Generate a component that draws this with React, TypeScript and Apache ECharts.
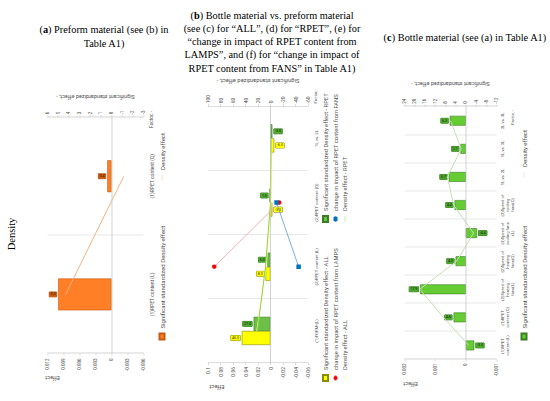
import React, { useEffect, useRef } from "react";
import * as echarts from "echarts";

const FONT = "Roboto, 'Noto Sans', sans-serif";
const SERIF = "'Liberation Serif', 'DejaVu Serif', serif";
const GREY = "#505050";
const LINE_ICON = "path://M0,0L0,0M0,2.2L10,2.2L10,2.9L0,2.9ZM10,5L10,5";

// ---------- Panel (a): Preform material ----------
const catsA = ["(1)RPET content (L)", "(1)RPET content (Q)"];
const stdEffectA = [5.0, 0.4];
const densityEffectA = [0.0086, -0.0023];
const effectTicksA = [-0.006, -0.003, 0, 0.003, 0.006, 0.009, 0.012];
const stdTicksA = [-3, -2, -1, 0, 1, 2, 3, 4, 5, 6];

// ---------- Panel (b): Bottle vs. preform ----------
const catsB = ["(1)FORM (L)", "(2)RPET content (L)", "(2)RPET content (Q)", "1L vs. 2L"];
const stdAllB = [46, 8, -3, -6];
const stdRpetB = [27, 5, 1.5, -3];
const densAllB = [0.022, 0.007, -0.001, -0.002];
const densRpetB = [0.021, 0.008, 0.0, -0.001];
const lampsB = [null, 0.09, -0.014, null];
const fansB = [null, -0.045, -0.0096, null];
const effectTicksB = [-0.06, -0.04, -0.02, 0, 0.02, 0.04, 0.06, 0.08, 0.1];
const stdTicksB = [-60, -40, -20, 0, 20, 40, 60, 80, 100];

// ---------- Panel (c): Bottle material ----------
const catsC = [
  "(1)RPET content (L)",
  "(1)RPET content (Q)",
  "(2)Speed of heating fans(L)",
  "(2)Speed of heating fans(Q)",
  "(3)Speed of cooling fans (L)",
  "(3)Speed of cooling fans(Q)",
  "1L vs. 2L",
  "1L vs. 3L",
  "2L vs. 3L",
];
const stdEffectC = [-3.3, 4.8, 17.9, 4.0, -4.4, 4.4, 6.7, 2.1, 6.3];
const densityEffectC = [-0.0001, 0.00073, 0.0015, 0.0003, -0.00025, 0.0004, 0.0006, 0.00015, 0.0005];
const effectTicksC = [-0.001, 0, 0.001, 0.002];
const stdTicksC = [-12, -8, -4, 0, 4, 8, 12, 16, 20, 24];

// ---------- Titles ----------
const titleA = ["({b|a}) Preform material (see (b) in", "Table A1)"];
const titleB = [
  "({b|b}) Bottle material vs. preform material",
  "(see (c) for “ALL”, (d) for “RPET”, (e) for",
  "“change in impact of RPET content from",
  "LAMPS”, and (f) for “change in impact of",
  "RPET content from FANS” in Table A1)",
];
const titleC = ["({b|c}) Bottle material (see (a) in Table A1)"];
const rowLabel = "Density";

const STD_NAME = "Significant standardized effect, -";

function axisFromTicks(ticks: number[]) {
  const min = ticks[0];
  const max = ticks[ticks.length - 1];
  const interval = Number((ticks[1] - ticks[0]).toPrecision(6));
  return { min, max, interval };
}

type BarDef = { name: string; data: number[]; color: string; border: string; labelBg: string; labelColor: string };
type LineDef = {
  name: string;
  data: (number | null)[];
  color: string;
  width?: number;
  symbol?: string;
  symbolSize?: number;
  markerColor?: string;
};

function buildPanel(p: any) {
  const series: any[] = [];
  p.bars.forEach((b: BarDef, i: number) => {
    series.push({
      type: "bar",
      name: b.name,
      yAxisIndex: 1,
      data: b.data.map((v) => ({ value: v, label: { align: v >= 0 ? "right" : "left" } })),
      barWidth: p.barWidth,
      barGap: "0%",
      itemStyle: { color: b.color, borderColor: b.border, borderWidth: 0.6 },
      label: {
        show: true,
        position: "outside",
        rotate: -90,
        verticalAlign: "middle",
        distance: 1.5,
        fontSize: 3.6,
        fontFamily: FONT,
        color: b.labelColor,
        backgroundColor: b.labelBg,
        borderColor: b.border,
        borderWidth: 0.5,
        padding: [0.6, 1.2, 0.3, 1.2],
        formatter: (q: any) => Number(q.value).toFixed(1),
      },
      markLine:
        i === 0
          ? {
              silent: true,
              symbol: ["none", "none"],
              label: { show: false },
              lineStyle: { color: "#BFBFBF", width: 0.7, type: "solid" },
              data: [{ yAxis: 0 }],
            }
          : undefined,
      z: 2,
    });
  });
  p.lines.forEach((l: LineDef) => {
    series.push({
      type: "line",
      name: l.name,
      yAxisIndex: 0,
      data: l.data,
      symbol: l.symbol || "none",
      showSymbol: !!l.symbol,
      symbolSize: l.symbolSize || 4,
      lineStyle: { color: l.color, width: l.width ?? 1 },
      itemStyle: { color: l.markerColor || l.color },
      connectNulls: false,
      z: 3,
    });
  });

  const ea = axisFromTicks(p.effectTicks);
  const sa = axisFromTicks(p.stdTicks);
  const legendText = { fontSize: p.legendFont, color: GREY, fontFamily: FONT };
  const plainLines = new Set(p.lines.filter((l: LineDef) => !l.symbol).map((l: LineDef) => l.name));

  return {
    animation: false,
    textStyle: { fontFamily: FONT },
    grid: p.grid,
    xAxis: {
      type: "category",
      data: p.cats,
      axisLine: { show: false, onZero: false },
      axisTick: { show: false },
      axisLabel: {
        interval: 0,
        fontSize: p.catFont,
        color: GREY,
        margin: p.catMargin,
        width: p.catWidth,
        overflow: p.catWidth ? "break" : "none",
        lineHeight: p.catFont * 1.25,
        fontFamily: FONT,
      },
      splitLine: { show: true, interval: 0, lineStyle: { color: "#D9D9D9", width: 0.6 } },
    },
    yAxis: [
      {
        type: "value",
        position: "left",
        ...ea,
        axisLine: { show: true, lineStyle: { color: "#D9D9D9", width: 0.7 } },
        axisTick: { show: true, length: 2, lineStyle: { color: "#BFBFBF", width: 0.6 } },
        axisLabel: {
          fontSize: p.tickFont,
          color: GREY,
          margin: p.leftMargin,
          fontFamily: FONT,
          formatter: (v: number) => String(Number(v.toFixed(4))),
        },
        splitLine: { show: false },
      },
      {
        type: "value",
        position: "right",
        ...sa,
        name: STD_NAME,
        nameLocation: "middle",
        nameRotate: 90,
        nameGap: p.stdNameGap,
        nameTextStyle: { fontSize: p.nameFont, color: GREY, fontFamily: FONT },
        axisLine: { show: true, lineStyle: { color: "#D9D9D9", width: 0.7 } },
        axisTick: { show: true, length: 2, lineStyle: { color: "#BFBFBF", width: 0.6 } },
        axisLabel: {
          fontSize: p.tickFont,
          color: GREY,
          margin: p.rightMargin,
          fontFamily: FONT,
          formatter: (v: number) => String(Math.round(v)),
        },
        splitLine: { show: false },
      },
    ],
    legend: p.legends.map((lg: any) => ({
      ...lg,
      itemWidth: 6,
      itemHeight: 5,
      textStyle: legendText,
      padding: 0,
      data: lg.data.map((d: any) => {
        const item = typeof d === "string" ? { name: d } : d;
        return plainLines.has(item.name) ? { ...item, icon: LINE_ICON } : item;
      }),
    })),
    series,
    graphic: [
      {
        type: "text",
        x: p.effectPos[0],
        y: p.effectPos[1],
        rotation: Math.PI / 2,
        style: {
          text: "Effect",
          fontSize: p.nameFont,
          fill: GREY,
          fontFamily: FONT,
          align: "center",
          verticalAlign: "middle",
          textAlign: "center",
          textVerticalAlign: "middle",
        },
      },
      {
        type: "text",
        x: p.factorPos[0],
        y: p.factorPos[1],
        style: {
          text: "Factor, -",
          fontSize: p.catFont,
          fill: GREY,
          fontFamily: FONT,
          align: "center",
          verticalAlign: "middle",
          textAlign: "center",
          textVerticalAlign: "middle",
        },
      },
    ],
  };
}

const optionA = buildPanel({
  grid: { left: 37, right: 19, top: 17, bottom: 37 },
  cats: catsA,
  catFont: 5,
  catMargin: 5,
  tickFont: 4.5,
  nameFont: 5.5,
  legendFont: 6,
  leftMargin: 5,
  rightMargin: 3,
  stdNameGap: 11,
  barWidth: "27%",
  effectTicks: effectTicksA,
  stdTicks: stdTicksA,
  effectPos: [13, 22],
  factorPos: [271, 120],
  bars: [
    {
      name: "Significant standardized Density effect",
      data: stdEffectA,
      color: "#FF7F27",
      border: "#C55A11",
      labelBg: "#C65911",
      labelColor: "#3B1A00",
    },
  ],
  lines: [{ name: "Density effect", data: densityEffectA, color: "#F4B183", width: 1 }],
  legends: [
    {
      left: 50,
      top: 128,
      itemGap: 45,
      data: [{ name: "Significant standardized Density effect", icon: "rect" }, "Density effect"],
    },
  ],
});

const optionB = buildPanel({
  grid: { left: 32, right: 30, top: 13, bottom: 50 },
  cats: catsB,
  catFont: 4.3,
  catMargin: 6,
  tickFont: 5,
  nameFont: 5.8,
  legendFont: 5.8,
  leftMargin: 4,
  rightMargin: 3,
  stdNameGap: 16,
  barWidth: "22%",
  effectTicks: effectTicksB,
  stdTicks: stdTicksB,
  effectPos: [8, 22],
  factorPos: [299, 120],
  bars: [
    {
      name: "Significant standardized Density effect - ALL",
      data: stdAllB,
      color: "#FFFF00",
      border: "#8C8C00",
      labelBg: "#FFFF00",
      labelColor: "#333300",
    },
    {
      name: "Significant standardized Density effect - RPET",
      data: stdRpetB,
      color: "#6CC04A",
      border: "#3A7D22",
      labelBg: "#4EA72E",
      labelColor: "#0D2607",
    },
  ],
  lines: [
    { name: "change in impact of RPET content from LAMPS", data: lampsB, color: "#F19C9C", width: 0.8, symbol: "circle", symbolSize: 4.5, markerColor: "#FF0000" },
    { name: "change in impact of RPET content from FANS", data: fansB, color: "#5B9BD5", width: 0.8, symbol: "rect", symbolSize: 4.5, markerColor: "#0070C0" },
    { name: "Density effect - ALL", data: densAllB, color: "#FFFF66", width: 0.9 },
    { name: "Density effect - RPET", data: densRpetB, color: "#92D050", width: 1 },
  ],
  legends: [
    {
      left: 13,
      top: 127,
      orient: "vertical",
      itemGap: 3.5,
      data: [
        { name: "Significant standardized Density effect - ALL", icon: "rect" },
        "change in impact of RPET content from LAMPS",
        "Density effect - ALL",
      ],
    },
    {
      left: 172,
      top: 127,
      orient: "vertical",
      itemGap: 3.5,
      data: [
        { name: "Significant standardized Density effect - RPET", icon: "rect" },
        "change in impact of RPET content from FANS",
        "Density effect - RPET",
      ],
    },
  ],
});

const optionC = buildPanel({
  grid: { left: 33, right: 30, top: 14, bottom: 39 },
  cats: catsC,
  catFont: 4.2,
  catMargin: 3,
  catWidth: 27,
  tickFont: 4.5,
  nameFont: 5.5,
  legendFont: 6,
  leftMargin: 4,
  rightMargin: 3,
  stdNameGap: 15,
  barWidth: "35%",
  effectTicks: effectTicksC,
  stdTicks: stdTicksC,
  effectPos: [9, 20],
  factorPos: [275, 122],
  bars: [
    {
      name: "Significant standardized Density effect",
      data: stdEffectC,
      color: "#66CC33",
      border: "#3A7D22",
      labelBg: "#4EA72E",
      labelColor: "#0D2607",
    },
  ],
  lines: [{ name: "Density effect", data: densityEffectC, color: "#C5E0B4", width: 1 }],
  legends: [
    {
      left: 52,
      top: 130,
      itemGap: 48,
      data: [{ name: "Significant standardized Density effect", icon: "rect" }, "Density effect"],
    },
  ],
});

function titleLines(lines: string[], cx: number, y0: number, step: number) {
  return lines.map((t, i) => ({
    type: "text",
    x: cx,
    y: y0 + i * step,
    style: {
      text: t,
      fontSize: 10.3,
      fontFamily: SERIF,
      fill: "#000",
      align: "center",
      verticalAlign: "middle",
      textAlign: "center",
      textVerticalAlign: "middle",
      rich: { b: { fontWeight: "bold", fontSize: 10.3, fontFamily: SERIF, fill: "#000" } },
    },
  }));
}

const optionBg = {
  animation: false,
  graphic: [
    ...titleLines(titleA, 104, 29, 14),
    ...titleLines(titleB, 272, 15, 13.3),
    ...titleLines(titleC, 465, 37, 14),
    {
      type: "text",
      x: 11,
      y: 234,
      rotation: Math.PI / 2,
      style: {
        text: rowLabel,
        fontSize: 10.5,
        fontFamily: SERIF,
        fill: "#000",
        align: "center",
        verticalAlign: "middle",
        textAlign: "center",
        textVerticalAlign: "middle",
      },
    },
  ],
};

function EChart({ option, style }: { option: any; style: React.CSSProperties }) {
  const ref = useRef<HTMLDivElement>(null);
  useEffect(() => {
    if (!ref.current) return;
    const chart = echarts.init(ref.current, undefined, { renderer: "svg" });
    chart.setOption(option);
    return () => chart.dispose();
  }, [option]);
  return <div ref={ref} style={style} />;
}

function rotated(x0: number, y0: number, W: number, H: number): React.CSSProperties {
  const cx = x0 + H / 2;
  const cy = y0 + W / 2;
  return {
    position: "absolute",
    left: cx - W / 2,
    top: cy - H / 2,
    width: W,
    height: H,
    transform: "rotate(-90deg)",
    transformOrigin: "50% 50%",
  };
}

export default function App() {
  return (
    <div style={{ position: "absolute", left: 0, top: 0, width: 550, height: 401, background: "#fff", overflow: "hidden" }}>
      <EChart option={optionBg} style={{ position: "absolute", left: 0, top: 0, width: 550, height: 401 }} />
      <EChart option={optionA} style={rotated(30, 85, 305, 150)} />
      <EChart option={optionB} style={rotated(195, 70, 325, 163)} />
      <EChart option={optionC} style={rotated(390, 72, 320, 145)} />
    </div>
  );
}
